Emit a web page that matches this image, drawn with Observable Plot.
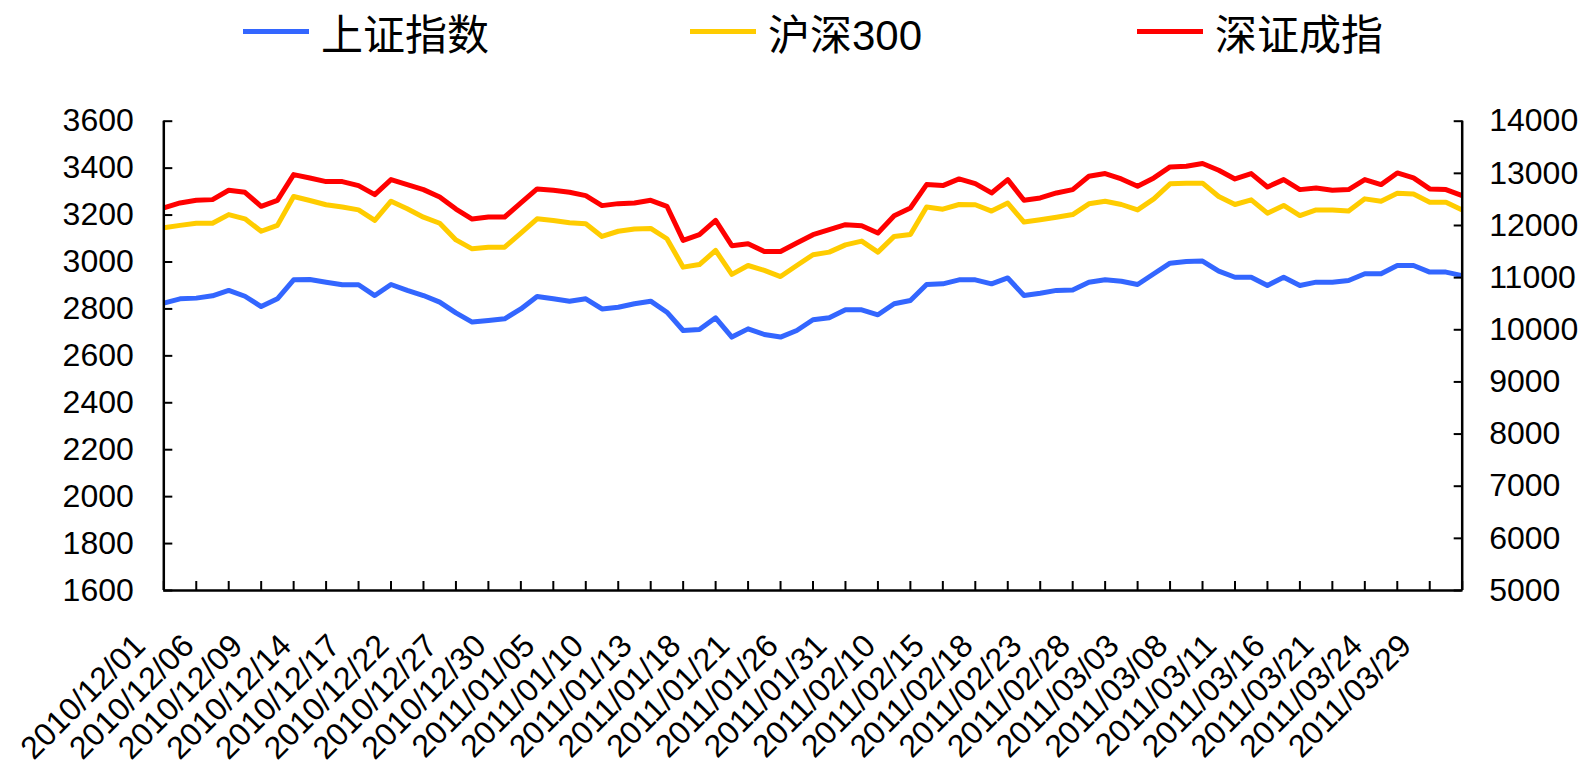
<!DOCTYPE html>
<html>
<head>
<meta charset="utf-8">
<script src="https://cdn.jsdelivr.net/npm/d3@7"></script>
<script src="https://cdn.jsdelivr.net/npm/@observablehq/plot@0.6"></script>
<style>
  body { margin: 0; background: #fff; }
  #legend { position: relative; width: 1585px; height: 80px; font-family: "Liberation Sans", Arial, "Noto Sans CJK SC", sans-serif; font-size: 42px; color: #000; }
  .item { position: absolute; top: 0; height: 62px; display: flex; align-items: center; white-space: nowrap; }
  .swatch { width: 66px; height: 5px; margin-right: 12px; }
</style>
</head>
<body>
<div id="legend"></div>
<div id="chart"></div>
<script>
// ---- data ----
const dates = [
  "2010/12/01","2010/12/02","2010/12/03","2010/12/06","2010/12/07","2010/12/08","2010/12/09","2010/12/10",
  "2010/12/13","2010/12/14","2010/12/15","2010/12/16","2010/12/17","2010/12/20","2010/12/21","2010/12/22",
  "2010/12/23","2010/12/24","2010/12/27","2010/12/28","2010/12/29","2010/12/30","2010/12/31",
  "2011/01/04","2011/01/05","2011/01/06","2011/01/07","2011/01/10","2011/01/11","2011/01/12","2011/01/13",
  "2011/01/14","2011/01/17","2011/01/18","2011/01/19","2011/01/20","2011/01/21","2011/01/24","2011/01/25",
  "2011/01/26","2011/01/27","2011/01/28","2011/01/31",
  "2011/02/01","2011/02/09","2011/02/10","2011/02/11","2011/02/14","2011/02/15","2011/02/16","2011/02/17",
  "2011/02/18","2011/02/21","2011/02/22","2011/02/23","2011/02/24","2011/02/25","2011/02/28",
  "2011/03/01","2011/03/02","2011/03/03","2011/03/04","2011/03/07","2011/03/08","2011/03/09","2011/03/10",
  "2011/03/11","2011/03/14","2011/03/15","2011/03/16","2011/03/17","2011/03/18","2011/03/21","2011/03/22",
  "2011/03/23","2011/03/24","2011/03/25","2011/03/28","2011/03/29","2011/03/30","2011/03/31"
];

// 上证指数 (left axis)
const shIndex = [
  2825, 2843, 2846, 2856, 2879, 2854, 2810, 2843, 2924, 2925,
  2914, 2903, 2903, 2857, 2904, 2879, 2857, 2829, 2783, 2744,
  2751, 2758, 2800, 2853, 2843, 2833, 2843, 2800, 2807, 2822,
  2833, 2786, 2708, 2712, 2762, 2680, 2715, 2691, 2680, 2708,
  2754, 2762, 2796, 2796, 2775, 2822, 2836, 2904, 2907, 2924,
  2924, 2907, 2932, 2857, 2867, 2879, 2881, 2914, 2924, 2918,
  2904, 2950, 2995, 3002, 3004, 2961, 2935, 2935, 2900, 2935,
  2900, 2914, 2914, 2921, 2950, 2950, 2985, 2985, 2957, 2957,
  2942
];

// 沪深300 (left axis)
const hs300 = [
  3146, 3156, 3165, 3165, 3202, 3184, 3131, 3156, 3279, 3262,
  3244, 3234, 3222, 3177, 3259, 3227, 3191, 3165, 3094, 3056,
  3063, 3063, 3123, 3184, 3177, 3167, 3163, 3109, 3131, 3141,
  3143, 3099, 2978, 2989, 3049, 2947, 2985, 2964, 2938, 2985,
  3031, 3042, 3073, 3089, 3042, 3109, 3117, 3234, 3225, 3245,
  3244, 3217, 3251, 3170, 3180, 3191, 3202, 3248, 3259, 3245,
  3222, 3269, 3333, 3336, 3336, 3279, 3245, 3265, 3208, 3241,
  3198, 3222, 3222, 3217, 3269, 3259, 3293, 3290, 3255, 3255,
  3222
];

// 深证成指 (right axis)
const szIndex = [
  12336, 12432, 12483, 12496, 12675, 12637, 12368, 12483, 12976, 12912,
  12842, 12842, 12765, 12592, 12880, 12784, 12688, 12547, 12316, 12124,
  12163, 12163, 12432, 12701, 12675, 12637, 12573, 12381, 12419, 12432,
  12483, 12368, 11714, 11823, 12099, 11612, 11650, 11503, 11503, 11663,
  11823, 11919, 12015, 11996, 11855, 12188, 12336, 12784, 12765, 12893,
  12803, 12624, 12880, 12483, 12528, 12624, 12688, 12944, 12996, 12893,
  12752, 12912, 13124, 13137, 13188, 13060, 12893, 12996, 12739, 12880,
  12688, 12720, 12675, 12688, 12880, 12784, 13008, 12912, 12701, 12688,
  12573
];

const leftTicks = [1600, 1800, 2000, 2200, 2400, 2600, 2800, 3000, 3200, 3400, 3600];
const rightTicks = [5000, 6000, 7000, 8000, 9000, 10000, 11000, 12000, 13000, 14000];
const seriesNames = ["上证指数", "沪深300", "深证成指"];
const seriesColors = ["#3366ff", "#ffcc00", "#ff0000"];

// ---- helpers ----
const L0 = 1600, L1 = 3600, R0 = 5000, R1 = 14000;
const toLeft = v => L0 + (v - R0) * (L1 - L0) / (R1 - R0);
const fromLeft = v => R0 + (v - L0) * (R1 - R0) / (L1 - L0);

const rows = [];
dates.forEach((d, i) => {
  rows.push({i, s: seriesNames[0], v: shIndex[i]});
  rows.push({i, s: seriesNames[1], v: hs300[i]});
  rows.push({i, s: seriesNames[2], v: toLeft(szIndex[i])});
});
const labelIdx = d3.range(0, dates.length, 3);
const tickIdx = d3.range(0, dates.length, 2);
const lastIdx = dates.length - 1;

// ---- legend ----
const legendLefts = [243, 690, 1137];
const legend = document.getElementById("legend");
seriesNames.forEach((name, k) => {
  const item = document.createElement("div");
  item.className = "item";
  item.style.left = legendLefts[k] + "px";
  const sw = document.createElement("span");
  sw.className = "swatch";
  sw.style.background = seriesColors[k];
  const tx = document.createElement("span");
  tx.textContent = name;
  item.append(sw, tx);
  legend.append(item);
});

// ---- chart ----
const font = "Liberation Sans, Arial, sans-serif";
const chart = Plot.plot({
  width: 1585,
  height: 689,
  marginTop: 40.7,
  marginBottom: 179,
  marginLeft: 163.3,
  marginRight: 123.3,
  style: {fontFamily: font, fontSize: "32px", color: "#000", background: "#fff", overflow: "visible"},
  x: {domain: [0, lastIdx], axis: null},
  y: {domain: [L0, L1], axis: null},
  color: {domain: seriesNames, range: seriesColors},
  marks: [
    Plot.line(rows, {x: "i", y: "v", z: "s", stroke: "s", strokeWidth: 5, strokeLinejoin: "round", strokeLinecap: "butt"}),
    // axis lines
    Plot.ruleX([0, lastIdx], {stroke: "#000", strokeWidth: 2.5}),
    Plot.ruleY([L0], {stroke: "#000", strokeWidth: 2.5}),
    // left ticks (inward) + labels
    Plot.axisY({ticks: leftTicks, anchor: "left", tickSize: 9, dx: 9, fill: "none", stroke: "#000", strokeWidth: 2, label: null}),
    Plot.axisY({ticks: leftTicks, anchor: "left", tickSize: 0, tickPadding: 30, fontSize: 32, fill: "#000",
      tickFormat: v => String(v), label: null}),
    // right ticks (inward) + labels
    Plot.axisY({ticks: rightTicks.map(toLeft), anchor: "right", tickSize: 9, dx: -9, fill: "none", stroke: "#000", strokeWidth: 2, label: null}),
    Plot.axisY({ticks: rightTicks.map(toLeft), anchor: "right", tickSize: 0, tickPadding: 27, fontSize: 32, fill: "#000",
      tickFormat: v => String(Math.round(fromLeft(v))), label: null}),
    // bottom ticks (inward)
    Plot.axisX({ticks: tickIdx, anchor: "bottom", tickSize: 9, dy: -9, fill: "none", stroke: "#000", strokeWidth: 2, label: null}),
    // rotated date labels
    Plot.text(labelIdx, {x: d => d, frameAnchor: "bottom", text: d => dates[d], rotate: -45,
      textAnchor: "end", lineAnchor: "middle", dx: -24, dy: 50, fontSize: 32, fill: "#000"})
  ]
});
document.getElementById("chart").append(chart);
</script>
</body>
</html>
